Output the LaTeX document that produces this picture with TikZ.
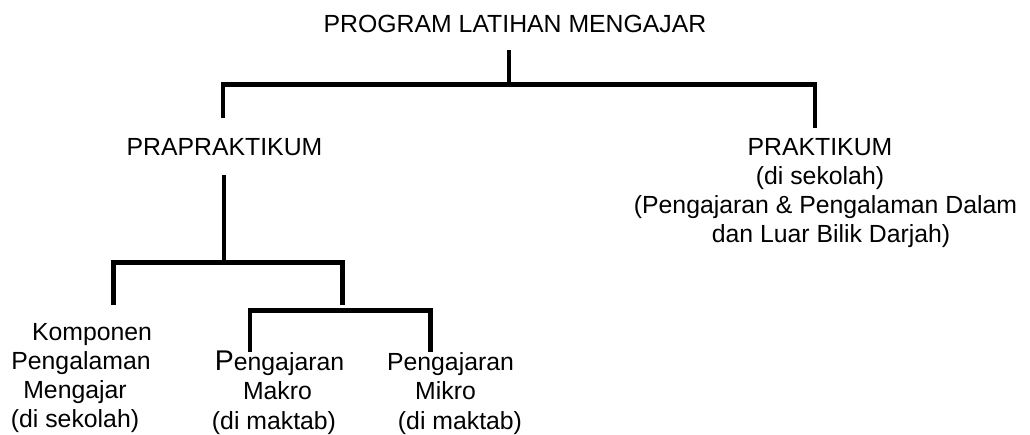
\documentclass[tikz,border=0pt]{standalone}
\usepackage{fontspec}
\setmainfont{Liberation Sans}
\begin{document}
\begin{tikzpicture}[x=1pt,y=-1pt,
  every node/.style={inner sep=0pt, font=\fontsize{24.8}{29.3}\selectfont},
  lbl/.style={align=center, anchor=base},
  conn/.style={draw=black, line width=4.5pt, line join=miter}]
\useasboundingbox (0,0) rectangle (1030,434);

% text nodes (base anchor = baseline of the last line)
\node[lbl] (title) at (515,32) {PROGRAM LATIHAN MENGAJAR};
\node[lbl] (pra) at (224.5,155) {PRAPRAKTIKUM};
\node[lbl] (prak) at (820,242.9) {PRAKTIKUM\\(di sekolah)\\\hspace*{11pt}(Pengajaran \& Pengalaman Dalam\\\hspace*{22pt}dan Luar Bilik Darjah)};
\node[lbl] (komp) at (75,427.9) {\hspace*{34pt}Komponen\\\hspace*{12pt}Pengalaman\\Mengajar\\(di sekolah)};
\node[lbl] (makro) at (274,429.1) {\hspace*{11pt}{\fontsize{28.5}{29.3}\selectfont P}engajaran\\\hspace*{7pt}Makro\\(di maktab)};
\node[lbl] (mikro) at (445.5,429.1) {\hspace*{10pt}Pengajaran\\Mikro\\\hspace*{29pt}(di maktab)};

% junction coordinates
\coordinate (tTop) at (509,50);
\coordinate (tBar) at (509,84.5);
\coordinate (lTop) at (223,84.5);
\coordinate (lEnd) at (223,118);
\coordinate (rTop) at (815,84.5);
\coordinate (rEnd) at (815,128);

\coordinate (pTop) at (224,175);
\coordinate (pBar) at (224,262.5);
\coordinate (kTop) at (113.5,262.5);
\coordinate (kEnd) at (113.5,305);
\coordinate (mTop) at (342.5,262.5);
\coordinate (mEnd) at (342.5,305);

\coordinate (maTop) at (250,310.5);
\coordinate (maEnd) at (250,352);
\coordinate (miTop) at (430.5,310.5);
\coordinate (miEnd) at (430.5,352);

% connectors
\draw[conn] (tTop) -- (tBar);
\draw[conn] (lEnd) -- (lTop) -- (rTop) -- (rEnd);
\draw[conn] (pTop) -- (pBar);
\draw[conn] (kEnd) -- (kTop) -- (mTop) -- (mEnd);
\draw[conn] (maEnd) -- (maTop) -- (miTop) -- (miEnd);
\end{tikzpicture}
\end{document}
